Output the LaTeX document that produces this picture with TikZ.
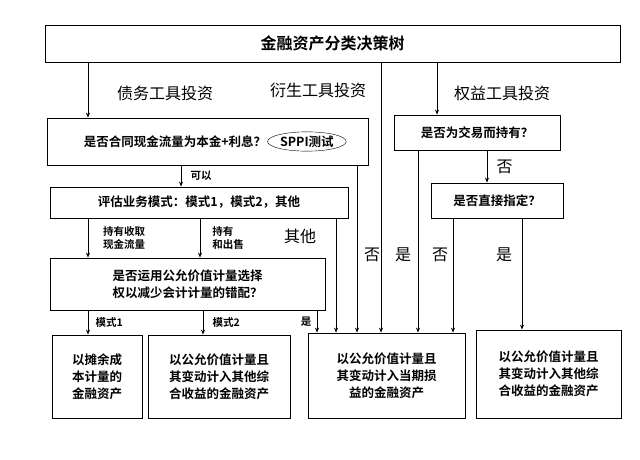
\documentclass[tikz,border=0pt]{standalone}
\usepackage{fontspec}
\setmainfont{Noto Sans CJK SC}[BoldFont={Noto Sans CJK SC Bold}]
\usetikzlibrary{positioning,arrows.meta,calc,shapes.geometric}
\tikzset{
  dbox/.style={draw, thick, inner sep=0pt, align=center, font=\fontsize{12.5}{17}\selectfont\bfseries},
  lab/.style={font=\fontsize{10.5}{12.5}\selectfont\bfseries, align=left},
  biglab/.style={font=\fontsize{16}{18}\selectfont},
  flow/.style={-{Stealth[length=5pt,width=4pt]}, thick},
}
\begin{document}
\begin{tikzpicture}[x=1pt,y=-1pt]
  \useasboundingbox (0,0) rectangle (640,460);

  % boxes
  \node[dbox, minimum width=575, minimum height=37, font=\fontsize{16}{18}\selectfont\bfseries] (tree) at (332.5,43.5) {金融资产分类决策树};
  \node[dbox, minimum width=321, minimum height=47] (sppi) at (207.5,141.5) {};
  \node[font=\fontsize{12.5}{17}\selectfont\bfseries, inner sep=0pt] (sppitxt) at (175,141.5) {是否合同现金流量为本金+利息？};
  \node[draw, ellipse, font=\fontsize{12.5}{17}\selectfont\bfseries, inner sep=1pt, right=1pt of sppitxt] (sppitest) {SPPI测试};
  \node[dbox, minimum width=298, minimum height=31] (model) at (199,202.5) {评估业务模式：模式1，模式2，其他};
  \node[dbox, minimum width=275, minimum height=52] (fvo) at (187.5,284) {是否运用公允价值计量选择\\权以减少会计计量的错配？};
  \node[dbox, minimum width=166, minimum height=35] (trade) at (477,132.5) {是否为交易而持有？};
  \node[dbox, minimum width=132, minimum height=35] (direct) at (497,200.5) {是否直接指定？};
  \node[dbox, minimum width=90, minimum height=83] (ac) at (97,376.5) {以摊余成\\本计量的\\金融资产};
  \node[dbox, minimum width=142, minimum height=83] (oci) at (219,376.5) {以公允价值计量且\\其变动计入其他综\\合收益的金融资产};
  \node[dbox, minimum width=157, minimum height=85] (pl) at (386.5,375.5) {以公允价值计量且\\其变动计入当期损\\益的金融资产};
  \node[dbox, minimum width=145, minimum height=88] (eoci) at (548.5,374) {以公允价值计量且\\其变动计入其他综\\合收益的金融资产};

  % group labels
  \node[biglab] (debt) at (165,93) {债务工具投资};
  \node[biglab] (deriv) at (318,90) {衍生工具投资};
  \node[biglab] (equity) at (502,93) {权益工具投资};

  % top branches
  \draw[flow] (tree.south -| 88,0) -- (sppi.north -| 88,0);
  \draw[flow] (tree.south -| 381,0) -- (pl.north -| 381,0);
  \draw[flow] (tree.south -| 437,0) -- (trade.north -| 437,0);

  % debt branch
  \draw[flow] (sppi.south -| 181,0) -- (model.north -| 181,0) node[lab, midway, right=6pt] (yes1) {可以};
  \draw[flow] (sppi.south -| 357,0) -- (pl.north -| 357,0);
  \node[biglab] (no1) at (372,255) {否};
  \draw[flow] (model.south -| 88,0) -- (fvo.north -| 88,0);
  \node[lab] (hold) at (124,238) {持有收取\\现金流量};
  \draw[flow] (model.south -| 200,0) -- (fvo.north -| 200,0);
  \node[lab] (sell) at (228,238) {持有\\和出售};
  \draw[flow] (model.south -| 336,0) -- (pl.north -| 336,0);
  \node[biglab] (other) at (300,236) {其他};
  \draw[flow] (fvo.south -| 88,0) -- (ac.north -| 88,0) node[lab, midway, right=4pt] (m1) {模式1};
  \draw[flow] (fvo.south -| 203,0) -- (oci.north -| 203,0) node[lab, midway, right=6pt] (m2) {模式2};
  \draw[flow] (fvo.south -| 317,0) -- (pl.north -| 317,0) node[lab, midway, left=2pt] (yes2) {是};

  % equity branch
  \draw[flow] (trade.south -| 418,0) -- (pl.north -| 418,0);
  \node[biglab] (yes3) at (403,255) {是};
  \draw[flow] (trade.south -| 487,0) -- (direct.north -| 487,0) node[biglab, midway, right=6pt] (no2) {否};
  \draw[flow] (direct.south -| 453,0) -- (pl.north -| 453,0);
  \node[biglab] (no3) at (440,255) {否};
  \draw[flow] (direct.south -| 522,0) -- (eoci.north -| 522,0);
  \node[biglab] (yes4) at (504,255) {是};
\end{tikzpicture}
\end{document}
